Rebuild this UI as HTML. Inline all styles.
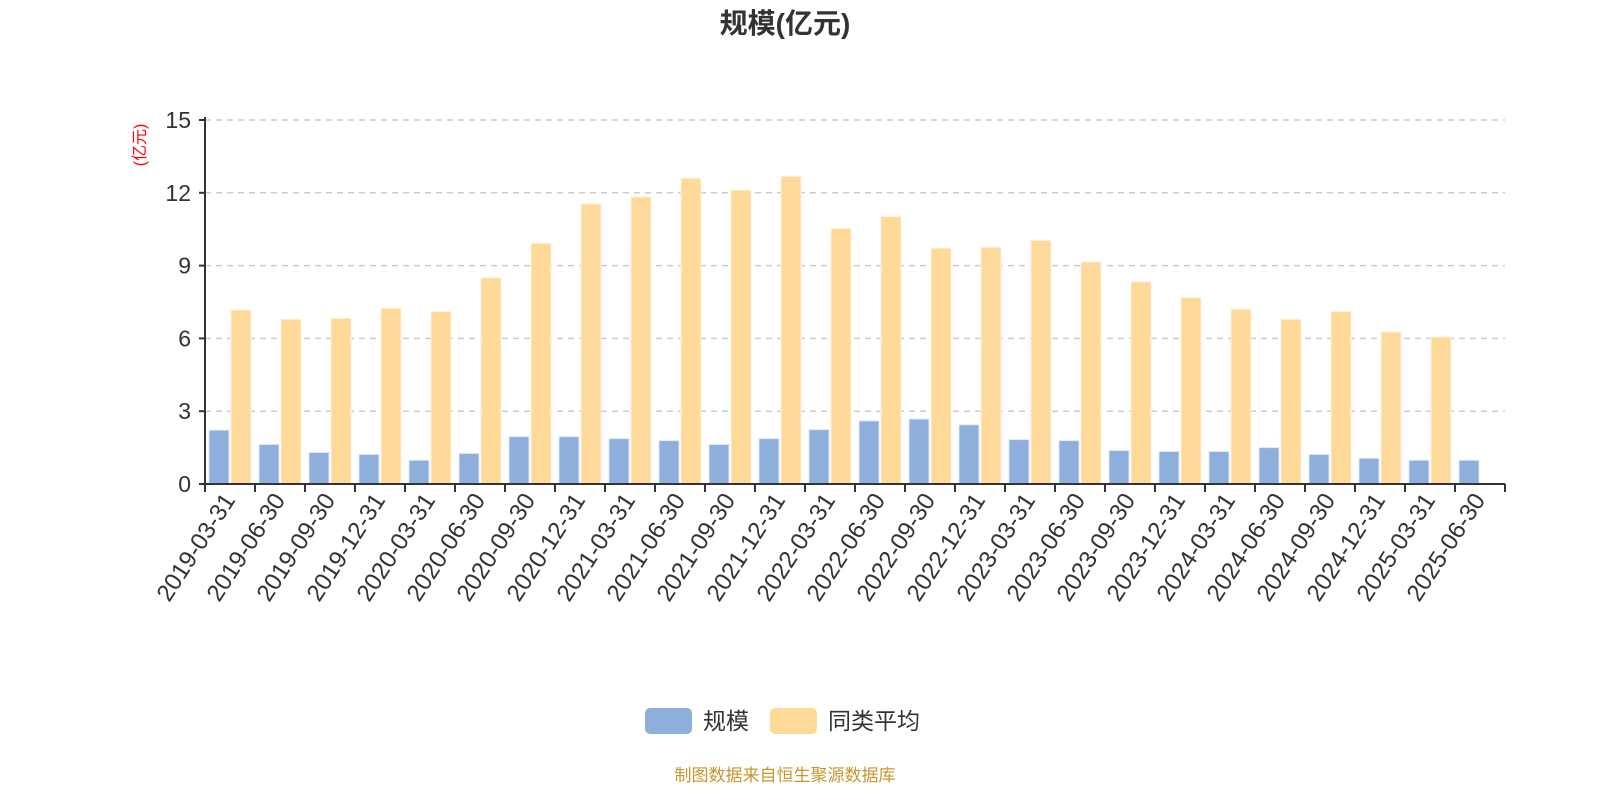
<!DOCTYPE html>
<html><head><meta charset="utf-8"><style>
body{margin:0;background:#fff;width:1600px;height:800px;overflow:hidden;font-family:"Liberation Sans","Noto Sans CJK SC",sans-serif}
</style></head><body>
<svg id="chart" width="1600" height="800" style="font-family:'Liberation Sans','Noto Sans CJK SC',sans-serif">
<text x="785" y="33" text-anchor="middle" font-size="28" font-weight="bold" fill="#333">规模(亿元)</text>
<text transform="translate(145,145) rotate(-90)" text-anchor="middle" font-size="16" fill="#f00">(亿元)</text>
<g id="grid"></g><g id="bars"></g><g id="axes"></g>
<g>
<rect x="645" y="708" width="47" height="26" rx="5" fill="#8eaedb"/>
<text x="703" y="729" font-size="23" fill="#333">规模</text>
<rect x="770" y="708" width="47" height="26" rx="5" fill="#ffd999"/>
<text x="828" y="729" font-size="23" fill="#333">同类平均</text>
</g>
<text x="785" y="781" text-anchor="middle" font-size="17" fill="#c8962d">制图数据来自恒生聚源数据库</text>
</svg>
<script>
const categories=["2019-03-31","2019-06-30","2019-09-30","2019-12-31","2020-03-31","2020-06-30","2020-09-30","2020-12-31","2021-03-31","2021-06-30","2021-09-30","2021-12-31","2022-03-31","2022-06-30","2022-09-30","2022-12-31","2023-03-31","2023-06-30","2023-09-30","2023-12-31","2024-03-31","2024-06-30","2024-09-30","2024-12-31","2025-03-31","2025-06-30"];
const sizeValues=[2.22,1.63,1.30,1.22,0.98,1.26,1.95,1.95,1.87,1.79,1.63,1.87,2.24,2.60,2.68,2.44,1.83,1.79,1.38,1.34,1.34,1.50,1.22,1.06,0.98,0.98];
const avgValues=[7.17,6.79,6.83,7.24,7.11,8.5,9.92,11.54,11.83,12.6,12.11,12.68,10.53,11.02,9.72,9.76,10.04,9.15,8.33,7.68,7.2,6.79,7.11,6.26,6.06,null];
const yTicks=[0,3,6,9,12,15];
const X0=205,X1=1505,Y0=484,Y1=120,YMAX=15;
const bw=(X1-X0)/categories.length;
const y=v=>Y0-(v/YMAX)*(Y0-Y1);
const xs=i=>X0+i*bw;
const NS="http://www.w3.org/2000/svg";
function mk(tag,attrs,parent,txt){const e=document.createElementNS(NS,tag);for(const k in attrs)e.setAttribute(k,attrs[k]);if(txt!=null)e.textContent=txt;parent.appendChild(e);return e;}
const grid=document.getElementById('grid'),bars=document.getElementById('bars'),axes=document.getElementById('axes');
yTicks.forEach(t=>{
 if(t>0){const l=mk('line',{x1:X0,x2:X1,y1:y(t),y2:y(t),stroke:'#ccc','stroke-width':1.5,'stroke-dasharray':'6,5'},grid);
 
 }
 const tx=mk('text',{x:X0-14,y:y(t)+8,'text-anchor':'end','font-size':23,fill:'#333'},axes,t);
 
 
 mk('line',{x1:X0-6,x2:X0,y1:y(t),y2:y(t),stroke:'#333','stroke-width':2},axes);
});
categories.forEach((c,i)=>{
 const b=mk('rect',{x:xs(i)+4,y:y(sizeValues[i]),width:20,height:Y0-y(sizeValues[i]),fill:'#8eaedb',stroke:'#dfe8f5','stroke-width':1},bars);
 
 
 if(avgValues[i]!=null){const o=mk('rect',{x:xs(i)+26,y:y(avgValues[i]),width:20,height:Y0-y(avgValues[i]),fill:'#ffd999',stroke:'#fff2dc','stroke-width':1},bars);
 
 }
 const cx=xs(i)+bw/2;
 const lab=mk('text',{transform:`translate(${cx+6},${Y0+16}) rotate(-57)`,'text-anchor':'end','font-size':24,fill:'#333'},axes,c);
 
 
});
for(let i=0;i<=categories.length;i++)mk('line',{x1:xs(i),x2:xs(i),y1:Y0,y2:Y0+8,stroke:'#333','stroke-width':2},axes);
const ya=mk('line',{x1:X0,x2:X0,y1:Y1-3,y2:Y0,stroke:'#333','stroke-width':2},axes);


const xa=mk('line',{x1:X0,x2:X1,y1:Y0,y2:Y0,stroke:'#333','stroke-width':2},axes);


</script>
</body></html>
